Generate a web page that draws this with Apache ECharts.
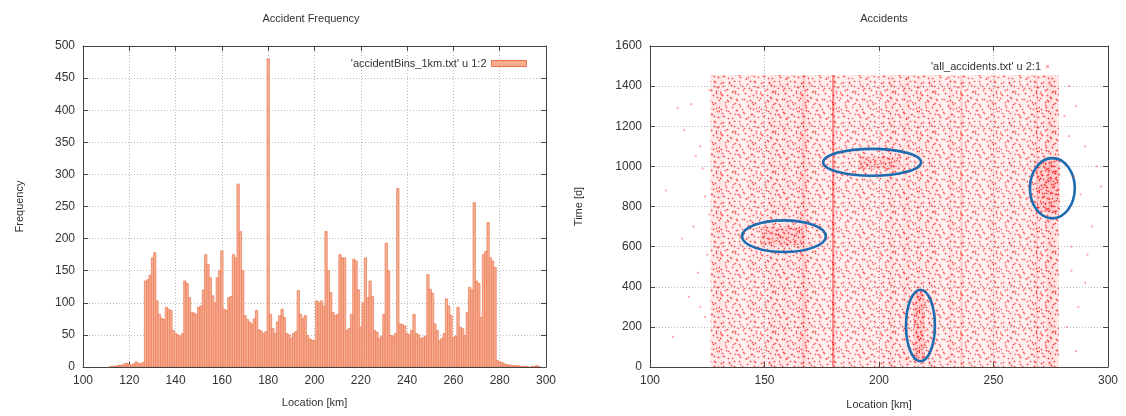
<!DOCTYPE html>
<html>
<head>
<meta charset="utf-8">
<script src="https://cdn.jsdelivr.net/npm/echarts@6/dist/echarts.min.js"></script>
<style>
  html, body { margin: 0; padding: 0; background: #fff; }
  #chart-container { width: 1126px; height: 416px; }
</style>
</head>
<body>
<div id="chart-container"></div>
<script>
// accidents per 1 km bin, km 100 .. 300
let binStart = 100;
let binCounts = [
    0, 0, 0, 0, 0, 0, 0, 0, 0, 0,            // 100
    0, 0, 1, 1, 1, 2, 3, 3, 5, 6,            // 110
    4, 3, 5, 8, 6, 5, 7, 134, 136, 143,      // 120
    170, 178, 103, 82, 76, 74, 93, 90, 88, 57, // 130
    52, 50, 48, 52, 134, 130, 108, 85, 84, 82, // 140
    93, 95, 120, 175, 160, 139, 111, 100, 139, 150, // 150
    181, 90, 88, 108, 110, 175, 170, 285, 211, 150, // 160
    80, 74, 70, 67, 75, 88, 58, 56, 52, 55,  // 170
    480, 82, 60, 52, 70, 80, 90, 77, 52, 50, // 180
    45, 52, 55, 119, 82, 75, 80, 49, 44, 42, // 190
    41, 103, 100, 103, 95, 211, 150, 116, 85, 80, // 200
    82, 175, 170, 170, 57, 60, 82, 168, 165, 120, // 210
    62, 100, 170, 108, 134, 110, 57, 54, 44, 48, // 220
    82, 193, 150, 49, 48, 52, 278, 67, 66, 64, // 230
    52, 50, 57, 82, 52, 50, 44, 46, 48, 144, // 240
    121, 115, 67, 57, 41, 44, 52, 106, 95, 80, // 250
    46, 48, 93, 62, 60, 49, 85, 124, 120, 256, // 260
    134, 130, 77, 175, 180, 225, 170, 165, 155, 10, // 270
    8, 7, 5, 4, 3, 3, 2, 2, 2, 1,            // 280
    1, 1, 1, 0, 1, 1, 2, 1, 0, 0,            // 290
    0                                        // 300
];

// time span covered by the dense accident cloud [d]
let timeStart = 0;
let timeEnd = 1455;

// denser clusters in the accident cloud: [km from, km to, day from, day to, strength]
let clusters = [
    [148, 167, 605, 700, 0.6],
    [191, 209, 985, 1050, 0.6],
    [215, 220, 30, 380, 0.75],
    [269, 279, 770, 1030, 0.75]
];

// single accidents outside the dense cloud: [km, day]
let strayPoints = [
    [112, 1290], [118, 1310], [122, 1100], [107, 880], [124, 850], [119, 700],
    [114, 640], [125, 560], [121, 470], [117, 350], [124, 250], [110, 150],
    [126, 1380], [123, 990], [115, 1180], [126, 760], [122, 300], [120, 1050],
    [283, 1400], [286, 1300], [290, 1100], [285, 950], [288, 860], [293, 700],
    [284, 600], [290, 420], [287, 300], [282, 200], [295, 1000], [283, 1150],
    [291, 560], [286, 80], [297, 900], [281, 1250], [284, 480]
];

// blue ellipses marking hotspots: [centre km, centre day, half width km, half height d]
let hotspots = [
    [158.5, 652, 18.3, 79],
    [197, 1020, 21.4, 67],
    [218.1, 207, 6.3, 178],
    [275.7, 891, 9.8, 150]
];

let histName = "'accidentBins_1km.txt' u 1:2";
let scatterName = "'all_accidents.txt' u 2:1";

let histData = binCounts.map(function (v, i) { return [binStart + i, v]; });
let columnData = [];
binCounts.forEach(function (v, i) {
    if (v >= 20) columnData.push([binStart + i, timeStart, timeEnd, v]);
});

// small stipple tile to give the cloud a dotted look
let tileDots = [[3,2],[11,5],[19,1],[27,4],[35,2],[7,9],[15,11],[24,8],[31,10],[38,7],[2,15],
    [10,17],[18,14],[22,19],[29,16],[36,13],[5,22],[13,24],[20,26],[27,21],[33,24],[39,20],[1,29],
    [8,31],[16,30],[24,33],[30,28],[37,31],[4,36],[12,38],[19,35],[26,38],[34,36],[9,3],[30,1],
    [14,6],[37,17],[6,27],[22,29],[17,20],[32,34],[2,33],[25,13],[12,12],[34,6],[20,37],[28,25],
    [7,20],[39,27],[15,34]];
function makeTile(shifts) {
    let c = document.createElement("canvas");
    c.width = 40; c.height = 40;
    let g = c.getContext("2d");
    shifts.forEach(function (s) {
        tileDots.forEach(function (d) {
            let x = (d[0] + s[0]) % 40, y = (d[1] + s[1]) % 40;
            g.fillStyle = "rgba(255,70,70,0.45)";
            g.fillRect(x - 1, y, 3, 1);
            g.fillRect(x, y - 1, 1, 3);
            g.fillStyle = "rgba(240,0,0,0.9)";
            g.fillRect(x, y, 1, 1);
        });
    });
    return { image: c, repeat: "repeat" };
}
let tileA = makeTile([[0, 0], [21, 17]]);
let tileB = makeTile([[9, 31], [29, 13]]);

let font = "'Liberation Sans', Arial, sans-serif";
let textColor = "#333";
let lineColor = "#444";

function mainAxis(extra) {
    return Object.assign({
        type: "value",
        axisLine: { show: true, onZero: false, lineStyle: { color: lineColor } },
        axisTick: { inside: true, length: 5, lineStyle: { color: lineColor } },
        axisLabel: { color: textColor, fontSize: 12, fontFamily: font,
                     formatter: function (v) { return String(v); } },
        splitLine: { show: true, lineStyle: { color: "#bbb", type: [1, 2] } },
        nameTextStyle: { color: textColor, fontSize: 11, fontFamily: font }
    }, extra);
}
function mirrorAxis(extra) {
    return Object.assign({
        type: "value",
        axisLine: { show: true, onZero: false, lineStyle: { color: lineColor } },
        axisTick: { inside: true, length: 5, lineStyle: { color: lineColor } },
        axisLabel: { show: false },
        splitLine: { show: false }
    }, extra);
}

let dom = document.getElementById("chart-container");
let myChart = echarts.init(dom, null, { renderer: "canvas" });

let option = {
    animation: false,
    title: [
        { text: "Accident Frequency", left: 306, top: 8, textAlign: "center",
          textStyle: { fontSize: 11, fontWeight: "normal", color: textColor, fontFamily: font } },
        { text: "Accidents", left: 879, top: 8, textAlign: "center",
          textStyle: { fontSize: 11, fontWeight: "normal", color: textColor, fontFamily: font } }
    ],
    legend: [
        { data: [{ name: histName, itemStyle: { color: "#f7ad8e", borderColor: "#e9714b", borderWidth: 1 } }],
          right: 594, top: 53, align: "right", itemWidth: 35, itemHeight: 6, icon: "rect",
          selectedMode: false,
          textStyle: { color: textColor, fontSize: 11, fontFamily: font } },
        { data: [{ name: scatterName, itemStyle: { color: "#ff4040" } }],
          right: 72, top: 56, align: "right", itemWidth: 3, itemHeight: 3, icon: "rect",
          selectedMode: false,
          textStyle: { color: textColor, fontSize: 11, fontFamily: font } }
    ],
    grid: [
        { left: 83, right: 580, top: 46, bottom: 49 },
        { left: 650, right: 18, top: 46, bottom: 49 }
    ],
    xAxis: [
        mainAxis({ gridIndex: 0, min: 100, max: 300, interval: 20, name: "Location [km]",
                   nameLocation: "middle", nameGap: 30 }),
        mirrorAxis({ gridIndex: 0, min: 100, max: 300, interval: 20, position: "top" }),
        mainAxis({ gridIndex: 1, min: 100, max: 300, interval: 50, name: "Location [km]",
                   nameLocation: "middle", nameGap: 32 }),
        mirrorAxis({ gridIndex: 1, min: 100, max: 300, interval: 50, position: "top" })
    ],
    yAxis: [
        mainAxis({ gridIndex: 0, min: 0, max: 500, interval: 50, name: "Frequency",
                   nameLocation: "middle", nameGap: 58 }),
        mirrorAxis({ gridIndex: 0, min: 0, max: 500, interval: 50, position: "right" }),
        mainAxis({ gridIndex: 1, min: 0, max: 1600, interval: 200, name: "Time [d]",
                   nameLocation: "middle", nameGap: 66 }),
        mirrorAxis({ gridIndex: 1, min: 0, max: 1600, interval: 200, position: "right" })
    ],
    series: [
        {
            name: histName,
            type: "custom",
            xAxisIndex: 0,
            yAxisIndex: 0,
            clip: true,
            itemStyle: { color: "#f7ad8e" },
            data: histData,
            renderItem: function (params, api) {
                let x = api.value(0), v = api.value(1);
                if (!v) return null;
                let p0 = api.coord([x - 0.5, v]);
                let p1 = api.coord([x + 0.5, 0]);
                return {
                    type: "rect",
                    shape: { x: p0[0], y: p0[1], width: p1[0] - p0[0], height: p1[1] - p0[1] },
                    style: { fill: "#f8b196", stroke: "#ea7650", lineWidth: 0.7 }
                };
            }
        },
        {
            name: "cloud",
            type: "custom",
            xAxisIndex: 2,
            yAxisIndex: 2,
            clip: true,
            silent: true,
            data: columnData,
            renderItem: function (params, api) {
                let x = api.value(0), y0 = api.value(1), y1 = api.value(2), c = api.value(3);
                let p0 = api.coord([x - 0.5, y1]);
                let p1 = api.coord([x + 0.5, y0]);
                let shape = { x: p0[0], y: p0[1], width: p1[0] - p0[0], height: p1[1] - p0[1] };
                let r = c / 480;
                let solid = 0.06 + 0.4 * r * r;
                let dots = Math.min(1, 0.45 + 0.55 * Math.sqrt(r));
                return {
                    type: "group",
                    children: [
                        { type: "rect", shape: shape, style: { fill: "rgba(255,0,0," + solid + ")" } },
                        { type: "rect", shape: shape, style: { fill: tileA, opacity: dots } }
                    ]
                };
            }
        },
        {
            name: "clusters",
            type: "custom",
            xAxisIndex: 2,
            yAxisIndex: 2,
            clip: true,
            silent: true,
            data: clusters,
            renderItem: function (params, api) {
                let p0 = api.coord([api.value(0), api.value(3)]);
                let p1 = api.coord([api.value(1), api.value(2)]);
                let s = api.value(4);
                let shape = { x: p0[0], y: p0[1], width: p1[0] - p0[0], height: p1[1] - p0[1] };
                return {
                    type: "group",
                    children: [
                        { type: "rect", shape: shape, style: { fill: "rgba(255,0,0," + (s * 0.15) + ")" } },
                        { type: "rect", shape: shape, style: { fill: tileB, opacity: s } }
                    ]
                };
            }
        },
        {
            name: scatterName,
            type: "scatter",
            xAxisIndex: 2,
            yAxisIndex: 2,
            symbol: "rect",
            symbolSize: 2,
            itemStyle: { color: "#ff4040", opacity: 0.45 },
            data: strayPoints
        },
        {
            name: "hotspots",
            type: "custom",
            xAxisIndex: 2,
            yAxisIndex: 2,
            clip: true,
            silent: true,
            data: hotspots,
            renderItem: function (params, api) {
                let c = api.coord([api.value(0), api.value(1)]);
                let s = api.size([api.value(2), api.value(3)]);
                return {
                    type: "ellipse",
                    shape: { cx: c[0], cy: c[1], rx: s[0], ry: s[1] },
                    style: { fill: null, stroke: "#1f6cb0", lineWidth: 2.6 }
                };
            }
        }
    ]
};

if (option && typeof option === "object") {
    myChart.setOption(option);
}

window.addEventListener("resize", myChart.resize);
</script>
</body>
</html>
